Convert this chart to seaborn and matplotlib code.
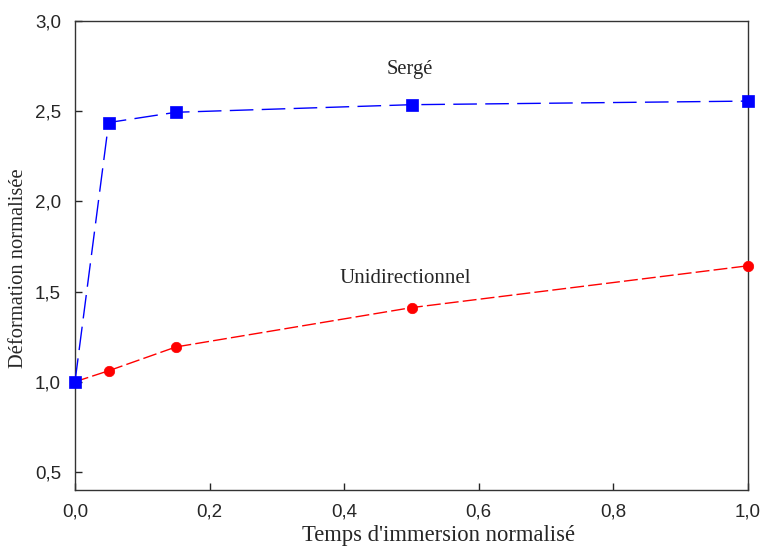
import matplotlib
matplotlib.use("Agg")
import matplotlib.pyplot as plt
import seaborn as sns
import pandas as pd
from matplotlib.ticker import FuncFormatter, MultipleLocator

# Data
temps = [0.0, 0.05, 0.15, 0.5, 1.0]
serge = [1.0, 2.437, 2.494, 2.536, 2.556]
unidir = [1.0, 1.061, 1.193, 1.411, 1.643]
label_serge = "Sergé"
label_unidir = "Unidirectionnel"
xlabel = "Temps d'immersion normalisé"
ylabel = "Déformation normalisée"

sns.set_style("ticks")
plt.rcParams['font.family'] = ['Liberation Sans', 'DejaVu Sans']
plt.rcParams['xtick.direction'] = 'in'
plt.rcParams['ytick.direction'] = 'in'

fig = plt.figure(figsize=(7.62, 5.46), dpi=100)
ax = fig.add_axes([75/762, 1-490/546, (748-75)/762, (490-21)/546])

df_s = pd.DataFrame({"x": temps, "y": serge})
df_u = pd.DataFrame({"x": temps, "y": unidir})

sns.lineplot(data=df_u, x="x", y="y", ax=ax, color="#ff0000", marker="o",
             markersize=7.5, markeredgecolor="#ff0000", markeredgewidth=0.5,
             linewidth=1.0, linestyle=(0, (10, 3)), errorbar=None, zorder=3)
sns.lineplot(data=df_s, x="x", y="y", ax=ax, color="#0000ff", marker="s",
             markersize=8, markeredgecolor="#0000ff", markeredgewidth=0.5,
             linewidth=1.0, linestyle=(0, (17, 6)), errorbar=None, zorder=4)

for a in ax.lines:
    a.set_clip_on(False)

ax.set_xlim(0, 1.0)
ax.set_ylim(0.4, 3.0)
ax.xaxis.set_major_locator(MultipleLocator(0.2))
ax.yaxis.set_major_locator(MultipleLocator(0.5))
fmt = FuncFormatter(lambda v, p: f"{v:.1f}".replace(".", ","))
ax.xaxis.set_major_formatter(fmt)
ax.yaxis.set_major_formatter(fmt)
ax.tick_params(direction="in", length=5, width=1, labelsize=13.5)
ax.tick_params(axis="y", pad=10)
ax.tick_params(axis="x", pad=10)

for sp in ax.spines.values():
    sp.set_visible(True)
    sp.set_linewidth(1.0)
    sp.set_color("#333333")

serif = ['Liberation Serif', 'DejaVu Serif']
ax.set_xlabel("")
ax.set_ylabel("")
fig.text(438/762, 1-541.5/546, xlabel, family=serif, fontsize=16.3,
         ha="center", va="baseline")
fig.text(19/762, 1-268/546, ylabel, family=serif, fontsize=14.8,
         ha="center", va="center", rotation=90)
ax.text(0.497, 2.73, label_serge, family=serif, fontsize=14.8, ha="center", va="center")
ax.text(0.491, 1.57, label_unidir, family=serif, fontsize=15, ha="center", va="center")

fig.savefig("out.png", dpi=100)
